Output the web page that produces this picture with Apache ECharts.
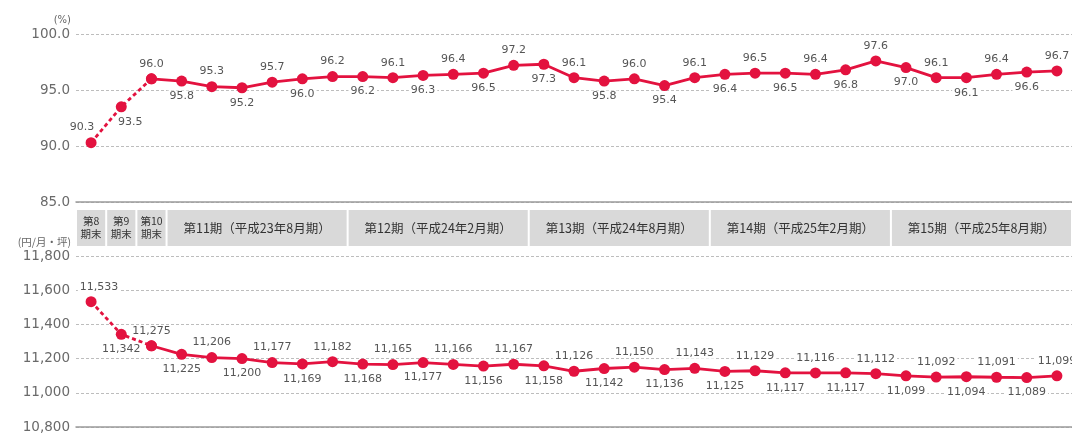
<!DOCTYPE html>
<html>
<head>
<meta charset="utf-8">
<script src="https://cdn.jsdelivr.net/npm/echarts@6/dist/echarts.min.js"></script>
<style>
html,body{margin:0;padding:0;background:#fff;}
#chart{width:1072px;height:435px;}
</style>
</head>
<body>
<div id="chart"></div>
<script>
// ---- data ----
const categories = ['第8期末','第9期末','第10期末',
  '2011/03','2011/04','2011/05','2011/06','2011/07','2011/08',
  '2011/09','2011/10','2011/11','2011/12','2012/01','2012/02',
  '2012/03','2012/04','2012/05','2012/06','2012/07','2012/08',
  '2012/09','2012/10','2012/11','2012/12','2013/01','2013/02',
  '2013/03','2013/04','2013/05','2013/06','2013/07','2013/08'];
const occupancy = [90.3, 93.5, 96.0, 95.8, 95.3, 95.2, 95.7, 96.0, 96.2, 96.2, 96.1, 96.3, 96.4, 96.5, 97.2, 97.3, 96.1,
  95.8, 96.0, 95.4, 96.1, 96.4, 96.5, 96.5, 96.4, 96.8, 97.6, 97.0, 96.1, 96.1, 96.4, 96.6, 96.7];
const rent = [11533, 11342, 11275, 11225, 11206, 11200, 11177, 11169, 11182, 11168, 11165, 11177, 11166, 11156, 11167,
  11158, 11126, 11142, 11150, 11136, 11143, 11125, 11129, 11117, 11116, 11117, 11112, 11099, 11092, 11094, 11091, 11089, 11099];
const periodLabels = ['第8\n期末','第9\n期末','第10\n期末','第11期（平成23年8月期）','第12期（平成24年2月期）',
  '第13期（平成24年8月期）','第14期（平成25年2月期）','第15期（平成25年8月期）'];
const periodStart = [0, 1, 2, 3, 9, 15, 21, 27];
const periodEnd   = [0, 1, 2, 8, 14, 20, 26, 32];
const occTicks = {min: 85, max: 100, interval: 5};
const rentTicks = {min: 10800, max: 11800, interval: 200};
const dashedCount = 3; // first three points (period-end values) joined by dashed line

// ---- styling ----
const RED = '#e3123f';
const NUM_FONT = '"DejaVu Sans", Verdana, sans-serif';
const JP_FONT = '"Noto Sans CJK JP", sans-serif';

function fmtComma(v){ return String(v).replace(/\B(?=(\d{3})+(?!\d))/g, ','); }

function buildData(values, part, firstOffsets){
  return values.map((v, i) => {
    const inPart = part === 'dashed' ? i < dashedCount : i >= dashedCount - 1;
    if (!inPart) return null;
    const showLabel = part === 'dashed' ? i < dashedCount - 1 : true;
    const top = i % 2 === 0;
    const item = {value: v, label: {show: showLabel, position: top ? 'top' : 'bottom'}};
    if (i < firstOffsets.length) item.label.offset = firstOffsets[i];
    return item;
  });
}

const labelStyle = (fmt) => ({
  color: '#555', fontSize: 11, fontFamily: NUM_FONT, distance: 4,
  backgroundColor: '#fff', padding: [0, 2],
  formatter: p => fmt(p.value)
});

function lineSeries(xi, yi, values, part, fmt, firstOffsets){
  return {
    type: 'line', xAxisIndex: xi, yAxisIndex: yi,
    data: buildData(values, part, firstOffsets),
    symbol: 'circle', symbolSize: 11,
    itemStyle: {color: RED},
    lineStyle: {color: RED, width: 2.8, type: part === 'dashed' ? [4, 3] : 'solid'},
    label: labelStyle(fmt),
    connectNulls: false, animation: false, z: part === 'dashed' ? 3 : 4
  };
}

const yAxisCommon = {
  axisLine: {show: false}, axisTick: {show: false},
  axisLabel: {color: '#6a6a6a', fontSize: 13.5, fontFamily: NUM_FONT, margin: 6},
  splitLine: {lineStyle: {color: '#bdbdbd', type: [3, 2], width: 1}}
};
const xAxisCommon = {
  type: 'category', data: categories, boundaryGap: true,
  axisTick: {show: false}, axisLabel: {show: false},
  axisLine: {lineStyle: {color: '#9a9a9a', width: 1.5}}
};

const option = {
  animation: false,
  grid: [
    {left: 76, right: 0, top: 34, height: 168},
    {left: 76, right: 0, top: 256, height: 171},
    {left: 76, right: 0, top: 210, height: 36}
  ],
  xAxis: [
    Object.assign({gridIndex: 0}, xAxisCommon),
    Object.assign({gridIndex: 1}, xAxisCommon),
    {gridIndex: 2, type: 'category', data: categories, show: false}
  ],
  yAxis: [
    Object.assign({}, yAxisCommon, {gridIndex: 0, type: 'value',
      min: occTicks.min, max: occTicks.max, interval: occTicks.interval,
      name: '(%)', nameLocation: 'end', nameGap: 9,
      nameTextStyle: {color: '#666', fontSize: 10, fontFamily: NUM_FONT, align: 'right', padding: [0, 5, 0, 0]},
      axisLabel: Object.assign({}, yAxisCommon.axisLabel, {formatter: v => v.toFixed(1)})}),
    Object.assign({}, yAxisCommon, {gridIndex: 1, type: 'value',
      min: rentTicks.min, max: rentTicks.max, interval: rentTicks.interval,
      name: '(円/月・坪)', nameLocation: 'end', nameGap: 9,
      nameTextStyle: {color: '#666', fontSize: 10.5, fontFamily: JP_FONT, align: 'right', padding: [0, 5, 0, 0]},
      axisLabel: Object.assign({}, yAxisCommon.axisLabel, {formatter: v => fmtComma(v)})}),
    {gridIndex: 2, type: 'value', min: 0, max: 1, show: false}
  ],
  series: [
    lineSeries(0, 0, occupancy, 'dashed', v => v.toFixed(1), [[-9, 0], [9, 0]]),
    lineSeries(0, 0, occupancy, 'solid', v => v.toFixed(1), []),
    lineSeries(1, 1, rent, 'dashed', fmtComma, [[8, 0], [0, 0]]),
    lineSeries(1, 1, rent, 'solid', fmtComma, []),
    {
      type: 'custom', xAxisIndex: 2, yAxisIndex: 2, animation: false,
      data: periodLabels.map((l, i) => [periodStart[i], periodEnd[i]]),
      encode: {x: [0, 1]},
      renderItem: function(params, api){
        const cs = params.coordSys;
        const bw = api.size([1, 0])[0];
        const x0 = api.coord([api.value(0), 0])[0] - bw / 2 + 1;
        const x1 = api.coord([api.value(1), 0])[0] + bw / 2 - 1;
        const label = periodLabels[params.dataIndex];
        const small = label.indexOf('\n') >= 0;
        return {
          type: 'group',
          children: [
            {type: 'rect', shape: {x: x0, y: cs.y, width: x1 - x0, height: cs.height},
              style: {fill: '#d9d9d9'}},
            {type: 'text', x: (x0 + x1) / 2, y: cs.y + cs.height / 2,
              style: {text: label, align: 'center', verticalAlign: 'middle',
                fill: '#333', fontSize: small ? 10.5 : 12.5, lineHeight: small ? 13 : 14,
                fontFamily: JP_FONT}}
          ]
        };
      }
    }
  ]
};

const chart = echarts.init(document.getElementById('chart'), null, {renderer: 'canvas'});
chart.setOption(option);
</script>
</body>
</html>
